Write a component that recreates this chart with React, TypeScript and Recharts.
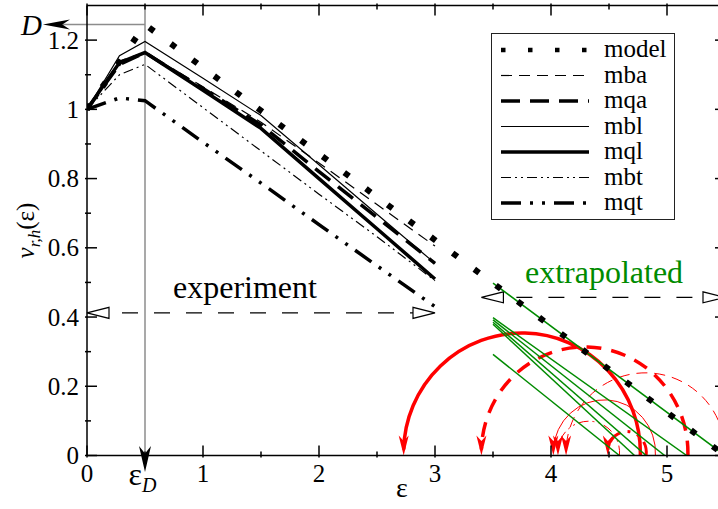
import React from 'react';
import {
  LineChart,
  Line,
  XAxis,
  YAxis,
  Legend,
  ReferenceLine,
  ReferenceArea,
  ReferenceDot,
} from 'recharts';

const FONT = "'Liberation Serif', 'DejaVu Serif', serif";
const SERIF = { fontFamily: FONT };
const GREEN = '#008b00';
const RED = '#ff0000';
const GRAY = '#8c8c8c';

// experiment region (strain values)
const epsExp = [0, 0.28, 0.5, 1, 1.5, 2, 2.5, 3];
const mba = [1, 1.14, 1.165, 1.065, 0.963, 0.845, 0.725, 0.605];
const mqa = [1, 1.13, 1.164, 1.06, 0.955, 0.82, 0.688, 0.555];
const mbl = [1, 1.155, 1.196, 1.09, 0.982, 0.84, 0.697, 0.555];
const mql = [1, 1.135, 1.164, 1.055, 0.945, 0.8, 0.655, 0.51];
const mbt = [1, 1.1, 1.13, 1.005, 0.88, 0.755, 0.632, 0.505];
const mqt = [1, 1.033, 1.025, 0.905, 0.787, 0.667, 0.548, 0.43];

// model curve
const modelEps = [0, 0.5, 5.5];
const modelVal = [1, 1.245, 0];

// extrapolated straight lines (green), from eps=3.5 down to zero
const extraFrom = 3.5;
const extraStart = [0.498, 0.398, 0.392, 0.385, 0.379, 0.292];
const extraZero = [5.5, 5.17, 4.98, 4.82, 4.72, 4.59];

// red arcs: zero crossing -> arrow position
const arcKeys = ['mql', 'mqa', 'mba', 'mbl', 'mbt', 'mqt'];
const arcFrom = [4.77, 5.18, 5.5, 4.9, 4.59, 4.82];
const arcTo = [2.73, 3.4, 4.13, 4.02, 4.06, 4.49];
const arcTop = [0.345, 0.305, 0.23, 0.152, 0.09, 0.06];

// annotations
const epsD = 0.5;
const valD = 1.245;
const dArrowEnd = -0.38;
const epsArrowEnd = -0.048;
const expRange = [0, 3];
const expLevel = 0.412;
const extRange = [3.4, 5.5];
const extLevel = 0.457;
const expText = { x: 1.362, y: 0.455 };
const extText = { x: 4.457, y: 0.4986 };

const xTicks = [0, 0.5, 1, 1.5, 2, 2.5, 3, 3.5, 4, 4.5, 5];
const yTicks = [0, 0.1, 0.2, 0.3, 0.4, 0.5, 0.6, 0.7, 0.8, 0.9, 1, 1.1, 1.2];

const legendNames = ['model', 'mba', 'mqa', 'mbl', 'mql', 'mbt', 'mqt'];
const expKeys = ['mba', 'mqa', 'mbl', 'mql', 'mbt', 'mqt'];

const lineStyle: Record<string, { w: number; dash?: string }> = {
  model: { w: 6, dash: '6 21' },
  mba: { w: 1.2, dash: '11 7' },
  mqa: { w: 3.5, dash: '19 10' },
  mbl: { w: 1.2 },
  mql: { w: 3.5 },
  mbt: { w: 1.2, dash: '10 4 2 4 2 4' },
  mqt: { w: 3.5, dash: '20 9 3 9 3 9' },
};

const arcStyle: Record<string, { w: number; dash?: string }> = {
  mql: { w: 3.5 },
  mqa: { w: 3.5, dash: '15 10' },
  mba: { w: 1, dash: '11 7' },
  mbl: { w: 1 },
  mbt: { w: 1, dash: '10 4 2 4 2 4' },
  mqt: { w: 3, dash: '14 7 3 7 3 7' },
};

const series: Record<string, number[]> = { mba, mqa, mbl, mql, mbt, mqt };
const chartData = epsExp.map((x, i) => {
  const row: Record<string, number> = { x };
  expKeys.forEach((k) => (row[k] = series[k][i]));
  return row;
});
const modelData = modelEps.map((x, i) => ({ x, v: modelVal[i] }));

const isMajorX = (v: number) => Math.abs(v - Math.round(v)) < 1e-6;
const isMajorY = (v: number) => Math.abs(v * 5 - Math.round(v * 5)) < 1e-6;

const renderBottomTick = (p: any) => {
  const v = p.payload.value;
  const major = isMajorX(v);
  return (
    <g>
      <line x1={p.x} x2={p.x} y1={p.y} y2={p.y - (major ? 12 : 6)} stroke="#000" strokeWidth={1.5} />
      {major && (
        <text x={p.x} y={p.y + 24.5} textAnchor="middle" style={SERIF} fontSize={25} fill="#000">
          {v}
        </text>
      )}
    </g>
  );
};

const renderTopTick = (p: any) => {
  const major = isMajorX(p.payload.value);
  return <line x1={p.x} x2={p.x} y1={p.y} y2={p.y + (major ? 12 : 6)} stroke="#000" strokeWidth={1.5} />;
};

const renderLeftTick = (p: any) => {
  const v = p.payload.value;
  const major = isMajorY(v);
  return (
    <g>
      <line x1={p.x} x2={p.x + (major ? 12 : 6)} y1={p.y} y2={p.y} stroke="#000" strokeWidth={1.5} />
      {major && (
        <text x={p.x - 6} y={p.y + 8.5} textAnchor="end" style={SERIF} fontSize={25} fill="#000">
          {String(Math.round(v * 10) / 10)}
        </text>
      )}
    </g>
  );
};

const renderRightTick = (p: any) => {
  const major = isMajorY(p.payload.value);
  return <line x1={p.x} x2={p.x - (major ? 12 : 6)} y1={p.y} y2={p.y} stroke="#000" strokeWidth={1.5} />;
};

const renderYLabel = (p: any) => {
  const vb = p.viewBox || { x: 0, y: 5.5, width: 87, height: 450 };
  const cx = vb.x + 34;
  const cy = vb.y + vb.height / 2;
  return (
    <text
      x={cx}
      y={cy}
      transform={`rotate(-90, ${cx}, ${cy})`}
      textAnchor="middle"
      style={SERIF}
      fontSize={25}
      fill="#000"
    >
      <tspan fontStyle="italic">v</tspan>
      <tspan fontStyle="italic" fontSize={17} dy={6}>
        r,h
      </tspan>
      <tspan dy={-6}>(ε)</tspan>
    </text>
  );
};

const renderXLabel = (p: any) => {
  const vb = p.viewBox || { x: 87, y: 455.5, width: 638, height: 53.5 };
  return (
    <text x={vb.x + vb.width / 2 - 4} y={vb.y + 41} textAnchor="middle" style={SERIF} fontSize={28} fill="#000">
      ε
    </text>
  );
};

// filled barbed arrow head, tip at (tx, ty), direction (dx, dy)
const arrowHead = (tx: number, ty: number, dx: number, dy: number, len: number, hw: number, fill: string) => {
  const bx = tx - dx * len;
  const by = ty - dy * len;
  const nx = -dy;
  const ny = dx;
  const mx = tx - dx * len * 0.72;
  const my = ty - dy * len * 0.72;
  const pts = `${tx},${ty} ${bx + nx * hw},${by + ny * hw} ${mx},${my} ${bx - nx * hw},${by - ny * hw}`;
  return <polygon points={pts} fill={fill} />;
};

const DLineShape = (p: any) => (
  <g>
    <line x1={p.x1} y1={p.y1} x2={p.x2 + 20} y2={p.y2} stroke={GRAY} strokeWidth={1.5} />
    {arrowHead(p.x2, p.y2, -1, 0, 27, 5, '#000')}
    <text x={p.x2 - 1} y={p.y2 + 10.5} textAnchor="end" style={SERIF} fontStyle="italic" fontSize={29} fill="#000">
      D
    </text>
  </g>
);

const EpsLineShape = (p: any) => (
  <g>
    <line x1={p.x1} y1={p.y1} x2={p.x2} y2={p.y2 - 18} stroke={GRAY} strokeWidth={1.5} />
    {arrowHead(p.x2, p.y2, 0, 1, 26, 6, '#000')}
  </g>
);

const RangeShape = (p: any) => {
  const L = 22;
  const H = 5.5;
  const { x1, x2, y1 } = p;
  const a = Math.min(x1, x2);
  const b = Math.max(x1, x2);
  return (
    <g>
      <line
        x1={a + L}
        x2={b - L}
        y1={y1}
        y2={y1}
        stroke="#000"
        strokeWidth={1.3}
        strokeDasharray="16 16"
        strokeDashoffset={19}
      />
      <polygon points={`${a},${y1} ${a + L},${y1 - H} ${a + L},${y1 + H}`} fill="#fff" stroke="#000" strokeWidth={1.2} />
      <polygon points={`${b},${y1} ${b - L},${y1 - H} ${b - L},${y1 + H}`} fill="#fff" stroke="#000" strokeWidth={1.2} />
    </g>
  );
};

const makeArcShape = (i: number) => (p: any) => {
  const { x, y, width, height } = p;
  const bottom = y + height;
  const toRight = arcTo[i] > arcFrom[i];
  const sx = toRight ? x : x + width;
  const ex = toRight ? x + width : x;
  const st = arcStyle[arcKeys[i]];
  return (
    <g>
      <path
        d={`M${sx},${bottom} A${width / 2},${height} 0 0 ${toRight ? 1 : 0} ${ex},${bottom - 6}`}
        fill="none"
        stroke={RED}
        strokeWidth={st.w}
        strokeDasharray={st.dash}
      />
      {arrowHead(ex, bottom, 0, 1, 20, 5, RED)}
    </g>
  );
};

const renderLegend = () => (
  <div
    style={{
      width: 184,
      height: 187,
      border: '1px solid #222',
      background: '#fff',
      boxSizing: 'border-box',
    }}
  >
    <svg width={182} height={185} style={{ display: 'block' }}>
      {legendNames.map((n, i) => {
        const cy = 16 + i * 25.5;
        const s = lineStyle[n];
        return (
          <g key={n}>
            <line
              x1={9}
              x2={97}
              y1={cy}
              y2={cy}
              stroke="#000"
              strokeWidth={n === 'model' ? 4.5 : s.w}
              strokeDasharray={n === 'model' ? '4.5 22.5' : s.dash}
            />
            <text x={112} y={cy + 7} style={SERIF} fontSize={25} fill="#000">
              {n}
            </text>
          </g>
        );
      })}
    </svg>
  </div>
);

const textShape = (label: string, color: string, size: number) => (p: any) => (
  <text x={p.cx} y={p.cy} textAnchor="middle" style={SERIF} fontSize={size} fill={color}>
    {label}
  </text>
);

const epsDShape = (p: any) => (
  <text x={p.cx - 2.5} y={p.cy + 29.5} textAnchor="middle" style={SERIF} fontSize={32} fill="#000">
    ε
    <tspan fontStyle="italic" fontSize={20} dy={7}>
      D
    </tspan>
  </text>
);

export default function App() {
  return (
    <div
      style={{
        position: 'absolute',
        left: 0,
        top: 0,
        width: 718,
        height: 509,
        overflow: 'hidden',
        background: '#fff',
        fontFamily: FONT,
      }}
    >
      <LineChart width={726} height={509} data={chartData} margin={{ top: 4.5, right: 0, bottom: 0, left: 0 }}>
        <XAxis
          type="number"
          dataKey="x"
          domain={[0, 5.5]}
          ticks={xTicks}
          interval={0}
          allowDataOverflow
          tickSize={0}
          tickLine={false}
          axisLine={{ stroke: '#000', strokeWidth: 1.5 }}
          height={53.5}
          tick={renderBottomTick}
          label={renderXLabel}
        />
        <XAxis
          xAxisId="top"
          orientation="top"
          type="number"
          dataKey="x"
          domain={[0, 5.5]}
          ticks={xTicks}
          interval={0}
          allowDataOverflow
          tickSize={0}
          tickLine={false}
          axisLine={{ stroke: '#000', strokeWidth: 1.5 }}
          height={1}
          tick={renderTopTick}
        />
        <YAxis
          type="number"
          domain={[0, 1.3]}
          ticks={yTicks}
          interval={0}
          allowDataOverflow
          tickSize={0}
          tickLine={false}
          axisLine={{ stroke: '#000', strokeWidth: 1.5 }}
          width={87}
          tick={renderLeftTick}
          label={renderYLabel}
        />
        <YAxis
          yAxisId="right"
          orientation="right"
          type="number"
          domain={[0, 1.3]}
          ticks={yTicks}
          interval={0}
          allowDataOverflow
          tickSize={0}
          tickLine={false}
          axisLine={{ stroke: '#000', strokeWidth: 1.5 }}
          width={1}
          tick={renderRightTick}
        />
        <Legend
          layout="vertical"
          align="center"
          verticalAlign="middle"
          content={renderLegend}
          wrapperStyle={{ left: 491, top: 33, width: 184, height: 187 }}
        />

        <ReferenceLine
          segment={[
            { x: epsD, y: 1.3 },
            { x: epsD, y: epsArrowEnd },
          ]}
          ifOverflow="visible"
          shape={EpsLineShape}
        />
        <ReferenceLine
          segment={[
            { x: epsD, y: valD },
            { x: dArrowEnd, y: valD },
          ]}
          ifOverflow="visible"
          shape={DLineShape}
        />
        <ReferenceDot x={epsD} y={0} ifOverflow="visible" shape={epsDShape} />

        <ReferenceLine
          segment={[
            { x: expRange[0], y: expLevel },
            { x: expRange[1], y: expLevel },
          ]}
          ifOverflow="visible"
          shape={RangeShape}
        />
        <ReferenceLine
          segment={[
            { x: extRange[0], y: extLevel },
            { x: extRange[1], y: extLevel },
          ]}
          ifOverflow="visible"
          shape={RangeShape}
        />
        <ReferenceDot x={expText.x} y={expText.y} ifOverflow="visible" shape={textShape('experiment', '#000', 32)} />
        <ReferenceDot x={extText.x} y={extText.y} ifOverflow="visible" shape={textShape('extrapolated', GREEN, 32)} />

        {extraStart.map((v, i) => (
          <Line
            key={'g' + i}
            data={[
              { x: extraFrom, v },
              { x: extraZero[i], v: 0 },
            ]}
            dataKey="v"
            type="linear"
            stroke={GREEN}
            strokeWidth={1.5}
            dot={false}
            activeDot={false}
            legendType="none"
            isAnimationActive={false}
          />
        ))}

        {arcKeys.map((k, i) => (
          <ReferenceArea
            key={'arc' + k}
            x1={Math.min(arcFrom[i], arcTo[i])}
            x2={Math.max(arcFrom[i], arcTo[i])}
            y1={0}
            y2={arcTop[i]}
            ifOverflow="visible"
            shape={makeArcShape(i)}
          />
        ))}

        {expKeys.map((k) => (
          <Line
            key={k}
            dataKey={k}
            type="linear"
            stroke="#000"
            strokeWidth={lineStyle[k].w}
            strokeDasharray={lineStyle[k].dash}
            dot={false}
            activeDot={false}
            isAnimationActive={false}
          />
        ))}
        <Line
          data={modelData}
          dataKey="v"
          name="model"
          type="linear"
          stroke="#000"
          strokeWidth={lineStyle.model.w}
          strokeDasharray={lineStyle.model.dash}
          dot={false}
          activeDot={false}
          isAnimationActive={false}
        />
      </LineChart>
    </div>
  );
}
